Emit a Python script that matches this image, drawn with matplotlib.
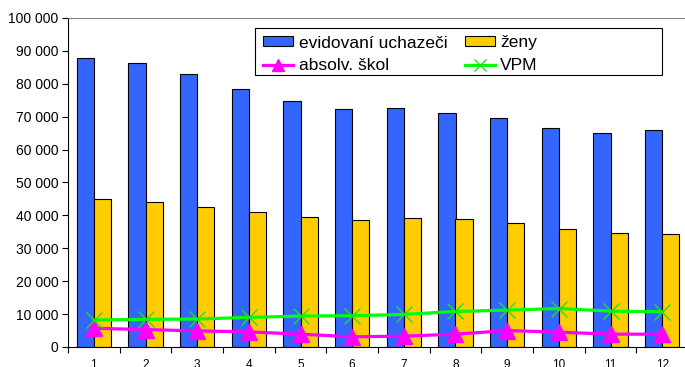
import matplotlib
matplotlib.use("Agg")
import matplotlib.pyplot as plt
import numpy as np
from matplotlib.ticker import FuncFormatter, FixedLocator
from matplotlib.patches import Rectangle

months = ["1", "2", "3", "4", "5", "6", "7", "8", "9", "10", "11", "12"]
evidovani = [87800, 86300, 82900, 78300, 74800, 72300, 72500, 71100, 69600, 66500, 64900, 65900]
zeny = [44900, 44000, 42600, 40900, 39600, 38700, 39200, 38800, 37600, 35800, 34700, 34400]
absolv = [5700, 5300, 4900, 4600, 3900, 3100, 3300, 3900, 5000, 4500, 3900, 3900]
vpm = [8200, 8400, 8500, 9000, 9400, 9500, 9900, 10800, 11200, 11700, 10900, 10700]

plt.rcParams['font.family'] = ['Liberation Sans', 'DejaVu Sans']

fig = plt.figure(figsize=(6.85, 3.67), dpi=100)
W, H = 685, 367
left, right, top, bottom = 68, 688, 18, 347
ax = fig.add_axes([left / W, 1 - bottom / H, (right - left) / W, (bottom - top) / H])

x = np.arange(len(months))
bw = 0.33
b1 = ax.bar(x - bw / 2, evidovani, bw, color="#3366FF", edgecolor="black", linewidth=0.8,
            label="evidovaní uchazeči", zorder=2)
b2 = ax.bar(x + bw / 2, zeny, bw, color="#FFCC00", edgecolor="black", linewidth=0.8,
            label="ženy", zorder=2)
l1, = ax.plot(x, absolv, color="#FF00FF", linewidth=2.3, marker="^", markersize=11,
              markerfacecolor="#FF00FF", markeredgecolor="#FF00FF", label="absolv. škol", zorder=3)
l2, = ax.plot(x, vpm, color="#00FF00", linewidth=2.3, marker="x", markersize=11,
              markeredgewidth=1.0, markeredgecolor="#22DD22", label="VPM", zorder=3)

ax.set_xlim(-0.5, len(months) - 0.5)
ax.set_ylim(0, 100000)
ax.set_yticks(np.arange(0, 100001, 10000))
ax.yaxis.set_major_formatter(FuncFormatter(lambda v, p: f"{int(v):,}".replace(",", " ")))
ax.set_xticks(x)
ax.set_xticklabels(months, fontsize=8.5)
ax.xaxis.set_minor_locator(FixedLocator(np.arange(-0.5, len(months), 1.0)))
ax.tick_params(axis="x", which="major", length=0, pad=9)
ax.tick_params(axis="x", which="minor", length=4, width=0.8, direction="out")
ax.tick_params(axis="y", length=4, width=0.8, direction="out", labelsize=10, pad=3)

ax.spines["right"].set_visible(False)
ax.spines["top"].set_color("#808080")
ax.spines["left"].set_linewidth(0.8)
ax.spines["bottom"].set_linewidth(0.8)

# legend frame (wide box as in reference)
fig.patches.append(Rectangle((255 / W, 1 - 75 / H), (662 - 255) / W, (75 - 28) / H,
                             transform=fig.transFigure, facecolor="white",
                             edgecolor="black", linewidth=0.8, zorder=4))
leg = fig.legend([b1, l1, b2, l2], ["evidovaní uchazeči", "absolv. škol", "ženy", "VPM"],
                 ncol=2, loc="upper left", bbox_to_anchor=(263 / W, 1 - 35.5 / H),
                 fontsize=12.5, frameon=False, borderpad=0, handlelength=1.75,
                 handleheight=0.5, handletextpad=0.3, columnspacing=1.0,
                 labelspacing=0.45, borderaxespad=0, markerscale=0.8)
leg.set_zorder(5)

fig.savefig("out.png", dpi=100)
